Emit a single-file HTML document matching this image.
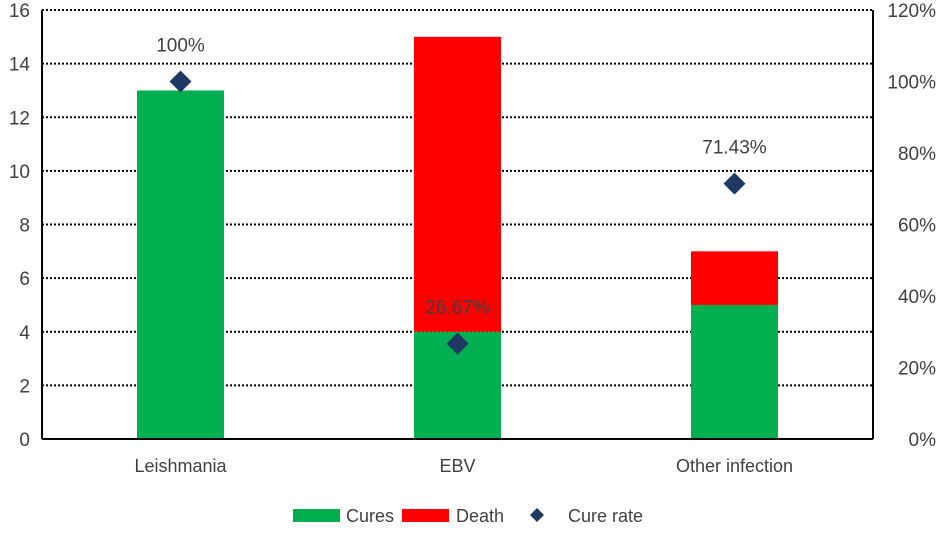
<!DOCTYPE html>
<html><head><meta charset="utf-8"><style>
body{margin:0;background:#fff;}
svg text{font-family:"Liberation Sans",sans-serif;fill:#404040;}
</style></head><body>
<svg id="c" width="941" height="532"></svg>
<script>
const categories=["Leishmania","EBV","Other infection"];
const cures=[13,4,5];
const deaths=[0,11,2];
const cureRate=[100,26.67,71.43];
const rateLabels=["100%","26.67%","71.43%"];
const leftTicks=[0,2,4,6,8,10,12,14,16];
const rightTicks=[0,20,40,60,80,100,120];
const NS="http://www.w3.org/2000/svg";
const svg=document.getElementById('c');
const X0=42,X1=873,Y0=439,Y1=10;
const yL=v=>Y0-(v/16)*(Y0-Y1);
const yR=v=>Y0-(v/120)*(Y0-Y1);
const bw=(X1-X0)/categories.length;
const xc=i=>X0+bw*(i+0.5);
function mk(t,a,txt){const e=document.createElementNS(NS,t);for(const k in a)e.setAttribute(k,a[k]);if(txt!==undefined)e.textContent=txt;svg.appendChild(e);return e;}
leftTicks.forEach(v=>{
  if(v>0){const g=mk('line',{x1:X0,x2:X1,y1:yL(v),y2:yL(v),stroke:'#000','stroke-width':2,'stroke-dasharray':'2,2'});
  
  }
  const t=mk('text',{x:X0-12,y:yL(v)+7,'text-anchor':'end','font-size':19},v);
  
  
});
rightTicks.forEach(v=>{
  const t=mk('text',{x:936,y:yR(v)+7,'text-anchor':'end','font-size':19},v+'%');
  
  
});
categories.forEach((c,i)=>{
  const w=87,x=xc(i)-w/2;
  const g=mk('rect',{x:x,y:yL(cures[i]),width:w,height:yL(0)-yL(cures[i]),fill:'#00b050'});
  
  
  if(deaths[i]>0){const r=mk('rect',{x:x,y:yL(cures[i]+deaths[i]),width:w,height:yL(cures[i])-yL(cures[i]+deaths[i]),fill:'#ff0000'});
  
  }
  const t=mk('text',{x:xc(i),y:Y0+33,'text-anchor':'middle','font-size':18},c);
  
  
});
const ax=mk('line',{x1:X0,x2:X0,y1:Y1,y2:Y0,stroke:'#000','stroke-width':2});


const ax2=mk('line',{x1:X1,x2:X1,y1:Y1,y2:Y0,stroke:'#000','stroke-width':2});


const ax3=mk('line',{x1:X0,x2:X1,y1:Y0,y2:Y0,stroke:'#000','stroke-width':2});


categories.forEach((c,i)=>{
  const x=xc(i),y=yR(cureRate[i]),s=11;
  const d=mk('polygon',{points:`${x},${y-s} ${x+s},${y} ${x},${y+s} ${x-s},${y}`,fill:'#1f3864'});
  
  
  const t=mk('text',{x:x,y:y-30,'text-anchor':'middle','font-size':19},rateLabels[i]);
  
  
});
const l1=mk('rect',{x:293,y:509,width:47,height:13,fill:'#00b050'});


const l1t=mk('text',{x:346,y:522,'font-size':18},'Cures');


const l2=mk('rect',{x:402,y:509,width:47,height:13,fill:'#ff0000'});


const l2t=mk('text',{x:456,y:522,'font-size':18},'Death');


const l3=mk('polygon',{points:'537,508 544,515 537,522 530,515',fill:'#1f3864'});


const l3t=mk('text',{x:568,y:522,'font-size':18},'Cure rate');


</script>
</body></html>
